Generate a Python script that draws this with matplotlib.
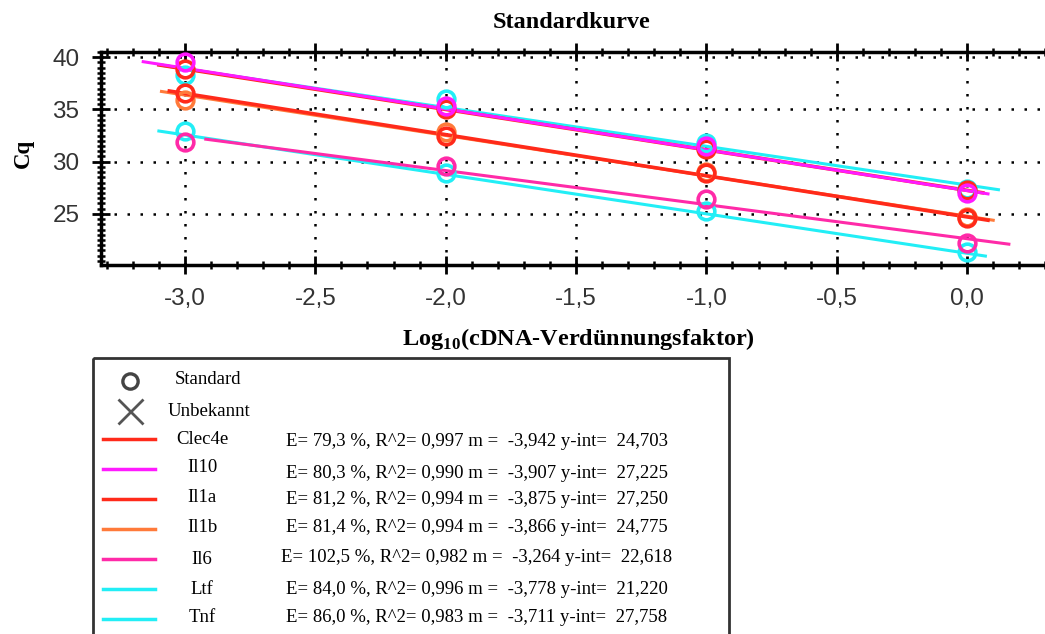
import matplotlib
matplotlib.use("Agg")
import matplotlib.pyplot as plt
from matplotlib.ticker import MultipleLocator, FuncFormatter
from matplotlib.patches import Rectangle
import numpy as np

plt.rcParams["mathtext.fontset"] = "custom"
plt.rcParams["mathtext.rm"] = "Liberation Serif"
plt.rcParams["mathtext.bf"] = "Liberation Serif:bold"

# Data
log_dilution = [-3.0, -2.0, -1.0, 0.0]
genes = ["Clec4e", "Il10", "Il1a", "Il1b", "Il6", "Ltf", "Tnf"]
colors = ["#ff2a1a", "#ff1aff", "#ff2a1a", "#ff7a3a", "#ff2aa8", "#22eef6", "#22eef6"]
efficiency = [79.3, 80.3, 81.2, 81.4, 102.5, 84.0, 86.0]
r_squared = [0.997, 0.990, 0.994, 0.994, 0.982, 0.996, 0.983]
slope = [-3.942, -3.907, -3.875, -3.866, -3.264, -3.778, -3.711]
intercept = [24.703, 27.225, 27.250, 24.775, 22.618, 21.220, 27.758]
# fitted line extent per gene (x range)
line_start = [-3.06, -3.16, -3.10, -3.09, -2.92, -3.10, -3.10]
line_end = [0.08, 0.08, 0.06, 0.10, 0.16, 0.07, 0.12]
# measured Cq of standards at each dilution
cq_clec4e = [36.6, 32.5, 28.9, 24.6]
cq_il10 = [39.5, 35.3, 31.5, 27.0]
cq_il1a = [38.9, 35.0, 31.2, 27.3]
cq_il1b = [35.9, 32.8, 29.0, 24.7]
cq_il6 = [31.9, 29.6, 26.4, 22.2]
cq_ltf = [32.9, 28.9, 25.3, 21.3]
cq_tnf = [38.3, 36.0, 31.8, 27.4]
cq_values = [cq_clec4e, cq_il10, cq_il1a, cq_il1b, cq_il6, cq_ltf, cq_tnf]

draw_order = [6, 5, 2, 3, 0, 1, 4]

W, H = 1045, 634
fig = plt.figure(figsize=(W / 100, H / 100), dpi=100)

def px_box(x0, y0, x1, y1):
    return [x0 / W, 1 - y1 / H, (x1 - x0) / W, (y1 - y0) / H]

def dec(v, n):
    return ("%.*f" % (n, v)).replace(".", ",")

ax = fig.add_axes(px_box(101, 52, 1055, 265))
ax.set_xlim(-3.322, 0.337)
ax.set_ylim(20.1, 40.5)

for i in draw_order:
    xs = np.array([line_start[i], line_end[i]])
    lw = 2.6 if i in (0, 2) else 2.2
    ax.plot(xs, slope[i] * xs + intercept[i], color=colors[i], lw=lw, zorder=3)
for i in draw_order:
    ax.plot(log_dilution, cq_values[i], "o", ms=12, mfc="none", mec=colors[i],
            mew=2.6, zorder=4)

ax.xaxis.set_major_locator(MultipleLocator(0.5))
ax.xaxis.set_minor_locator(MultipleLocator(0.1))
ax.yaxis.set_minor_locator(MultipleLocator(0.5))
ax.set_yticks([25, 30, 35, 40])
ax.xaxis.set_major_formatter(FuncFormatter(lambda v, p: dec(v, 1).replace("-0,0", "0,0")))
ax.yaxis.set_major_formatter(FuncFormatter(lambda v, p: "%d" % round(v)))

ax.tick_params(axis="both", which="major", direction="inout", length=13, width=2,
               labelsize=17.5, labelcolor="#333333", top=True)
ax.tick_params(axis="both", which="minor", direction="inout", length=6, width=1.8, top=True)
ax.tick_params(axis="x", pad=10)
ax.tick_params(axis="y", pad=9)
for lab in ax.get_xticklabels() + ax.get_yticklabels():
    lab.set_family("Liberation Sans")

for s in ax.spines.values():
    s.set_linewidth(2.5)
ax.grid(True, which="major", color="black", linestyle=(0, (1, 4.2)), linewidth=1.8)

serif = "Liberation Serif"
fig.text(572 / W, 1 - 22 / H, "Standardkurve", ha="center", va="center",
         family=serif, fontweight="bold", fontsize=17.5)
fig.text(23 / W, 1 - 153 / H, "Cq", ha="center", va="center", rotation=90,
         family=serif, fontweight="bold", fontsize=16.5)
fig.text(578 / W, 1 - 339 / H, r"Log$_{\mathbf{10}}$(cDNA-Verdünnungsfaktor)", ha="center",
         va="center", family=serif, fontweight="bold", fontsize=17.5)

# Legend box drawn in pixel coordinates
lg = fig.add_axes([0, 0, 1, 1])
lg.set_xlim(0, W)
lg.set_ylim(H, 0)
lg.axis("off")
lg.add_patch(Rectangle((93, 358), 636, 300, fill=False, ec="#333333", lw=2))

lg.plot([130], [381], "o", ms=11, mfc="none", mec="#444444", mew=2.4)
lg.text(175, 379, "Standard", va="center", family=serif, fontsize=13.5)
lg.plot([130], [411], "x", ms=18, mec="#555555", mew=2)
lg.text(168, 411, "Unbekannt", va="center", family=serif, fontsize=13.5)

row_y = [439, 469, 499, 529, 559, 589, 619]
name_y = [442, 470, 500, 529, 561, 592, 620]
stat_y = [444, 476, 501, 529, 559, 591, 620]
for i, g in enumerate(genes):
    lg.plot([103, 155], [row_y[i], row_y[i]], color=colors[i], lw=2.5)
    lg.text(202, name_y[i] - 2, g, ha="center", va="center", family=serif, fontsize=13.5)
    stats = "E= %s %%, R^2= %s m =  %s y-int=  %s" % (
        dec(efficiency[i], 1), dec(r_squared[i], 3), dec(slope[i], 3), dec(intercept[i], 3))
    lg.text(477, stat_y[i] - 2, stats, ha="center", va="center", family=serif, fontsize=13.5)

fig.savefig("out.png", dpi=100)
